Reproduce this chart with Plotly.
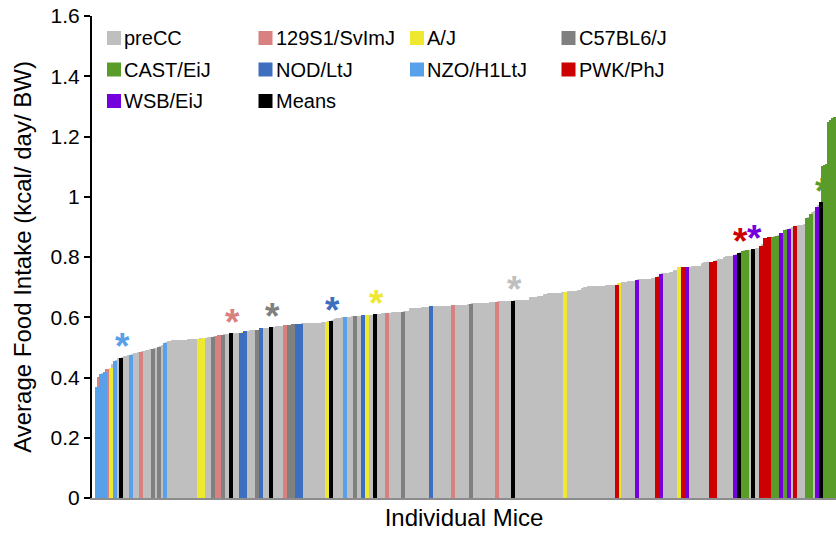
import plotly.graph_objects as go

# ---- food intake per mouse (kcal/day/BW) ----
precc = [
    0.410, 0.426, 0.440, 0.456, 0.460, 0.465, 0.467, 0.468, 0.470,
    0.475, 0.477, 0.478, 0.480, 0.484, 0.486, 0.487, 0.488, 0.490,
    0.494, 0.496, 0.500, 0.503,
    0.516, 0.518, 0.519, 0.520, 0.520, 0.521, 0.521, 0.521, 0.522, 0.522,
    0.522, 0.523, 0.523, 0.523, 0.524, 0.524,
    0.5265, 0.528, 0.529, 0.530, 0.531, 0.534, 0.538, 0.540, 0.541, 0.542,
    0.544, 0.544, 0.545, 0.545, 0.552, 0.552, 0.553, 0.553, 0.554, 0.556,
    0.561, 0.561, 0.562, 0.562, 0.564, 0.565, 0.566, 0.567, 0.568, 0.569,
    0.571, 0.5725, 0.5735, 0.5745,
    0.576, 0.576, 0.577, 0.577, 0.577, 0.578, 0.578, 0.578, 0.579, 0.579,
    0.580, 0.581, 0.583,
    0.588, 0.591, 0.593, 0.594, 0.595, 0.596, 0.598, 0.599, 0.599, 0.600,
    0.6015, 0.602, 0.602, 0.6035, 0.6045, 0.605, 0.6055,
    0.607, 0.608, 0.609, 0.610, 0.610,
    0.612, 0.612, 0.613, 0.613, 0.613, 0.613, 0.6135,
    0.616, 0.617, 0.618, 0.626, 0.626, 0.627, 0.627, 0.627, 0.628, 0.630,
    0.631, 0.631, 0.632,
    0.6335, 0.634, 0.634, 0.634, 0.634, 0.635, 0.635, 0.635, 0.635, 0.635,
    0.637, 0.637, 0.638, 0.638, 0.638, 0.639, 0.639, 0.640,
    0.643, 0.643, 0.644, 0.644, 0.644, 0.645, 0.645, 0.645, 0.645, 0.646,
    0.646, 0.646,
    0.649, 0.649, 0.650, 0.650, 0.650, 0.650, 0.651,
    0.6525, 0.653, 0.653, 0.653, 0.654, 0.654, 0.654, 0.655,
    0.664, 0.665, 0.665, 0.665, 0.666, 0.666, 0.666,
    0.675, 0.675, 0.676, 0.676, 0.677, 0.677, 0.677, 0.678, 0.678, 0.679,
    0.682, 0.683, 0.684, 0.684, 0.685, 0.685, 0.686, 0.686,
    0.695, 0.696, 0.698,
    0.700, 0.700, 0.701, 0.701, 0.701, 0.702, 0.702, 0.702, 0.702, 0.703,
    0.703, 0.703, 0.703, 0.7035,
    0.712, 0.714, 0.715, 0.715, 0.716, 0.716, 0.717, 0.717,
    0.7235, 0.724, 0.724, 0.724, 0.725, 0.725, 0.725, 0.726, 0.726,
    0.733, 0.742, 0.743, 0.744, 0.745, 0.746, 0.747, 0.754, 0.755,
    0.7625, 0.7635,
    0.765, 0.765, 0.766, 0.766, 0.766, 0.767, 0.767, 0.778, 0.779, 0.779,
    0.780, 0.7815,
    0.788, 0.789, 0.790, 0.791, 0.798, 0.799, 0.800, 0.800, 0.801,
    0.805, 0.812, 0.819, 0.8205, 0.821, 0.823, 0.825, 0.827,
    0.840, 0.861, 0.863, 0.865, 0.870, 0.878, 0.888, 0.892, 0.895,
    0.901, 0.902, 0.903, 0.904, 0.905, 0.930, 0.945, 0.950, 0.970,
]
s129 = [0.398, 0.425, 0.482, 0.536, 0.537, 0.570, 0.611, 0.636, 0.648]
aj = [0.428, 0.526, 0.527, 0.549, 0.582, 0.604, 0.681, 0.709, 0.762]
c57 = [0.492, 0.497, 0.532, 0.539, 0.555, 0.572, 0.573, 0.601, 0.614, 0.642]
cast = [0.818, 0.820, 0.864, 0.866, 0.887, 0.925, 0.938,
        1.100, 1.102, 1.105, 1.245, 1.250, 1.258, 1.262]
nod = [0.546, 0.551, 0.560, 0.574, 0.575, 0.603, 0.633]
nzo = [0.365, 0.408, 0.414, 0.452, 0.472, 0.510, 0.597]
pwk = [0.705, 0.731, 0.763, 0.781, 0.782, 0.833, 0.860, 0.862, 0.899]
wsb = [0.722, 0.741, 0.764, 0.803, 0.876, 0.889, 0.962]

# group means, with the strain each mean belongs to
mean_strain = ["NZO/H1LtJ", "129S1/SvImJ", "C57BL6/J", "NOD/LtJ", "A/J",
               "preCC", "PWK/PhJ", "WSB/EiJ", "CAST/EiJ"]
mean_value = [0.462, 0.543, 0.563, 0.584, 0.606, 0.652, 0.810, 0.822, 0.978]

groups = ["preCC", "129S1/SvImJ", "A/J", "C57BL6/J", "CAST/EiJ",
          "NOD/LtJ", "NZO/H1LtJ", "PWK/PhJ", "WSB/EiJ", "Means"]
group_values = [precc, s129, aj, c57, cast, nod, nzo, pwk, wsb, mean_value]
colors = ["#BFBFBF", "#D98080", "#EEE830", "#808080", "#5A9C2A",
          "#3E6FBF", "#58A0EA", "#CC0000", "#7300DD", "#000000"]
color_of = dict(zip(groups, colors))

# every mouse (and every mean) ranked by intake along the x axis
records = []
for g, vals in zip(groups, group_values):
    for v in vals:
        records.append((v, g))
records.sort(key=lambda r: r[0])
n_total = len(records)

fig = go.Figure()
for g in groups:
    xs = [i for i, (v, gg) in enumerate(records) if gg == g]
    ys = [v for v, gg in records if gg == g]
    fig.add_trace(go.Bar(
        x=xs, y=ys, width=1, name=g, showlegend=False,
        marker=dict(color=color_of[g],
                    line=dict(color=color_of[g], width=1 if g == "preCC" else 2)),
    ))

# asterisks above each group mean
mean_rank = {v: i for i, (v, gg) in enumerate(records) if gg == "Means"}
annotations = []
for s, v in zip(mean_strain, mean_value):
    annotations.append(dict(
        x=mean_rank[v], y=v, xref="x", yref="y", text="*", showarrow=False,
        xanchor="center", yanchor="middle", yshift=12, xshift=1,
        font=dict(family="Arial", size=37, color=color_of[s], weight="bold"),
    ))

# legend drawn as a 4-column grid of swatches
L, R, T, B = 92, 0, 16, 36
W, H = 836, 534
PW, PH = W - L - R, H - T - B


def px_x(px):
    return (px - L) / PW


def px_y(py):
    return (T + PH - py) / PH


shapes = []
col_left = [107, 258.5, 410, 561.5]
row_mid = [38, 69.5, 101]
sw = 14
for idx, g in enumerate(groups):
    r, c = divmod(idx, 4)
    x0 = col_left[c]
    yc = row_mid[r]
    shapes.append(dict(type="rect", xref="paper", yref="paper",
                       x0=px_x(x0), x1=px_x(x0 + sw),
                       y0=px_y(yc + sw / 2), y1=px_y(yc - sw / 2),
                       fillcolor=color_of[g], line=dict(width=0)))
    annotations.append(dict(
        x=px_x(x0 + sw + 1), y=px_y(yc), xref="paper", yref="paper",
        text=g, showarrow=False, xanchor="left", yanchor="middle",
        font=dict(family="Arial", size=20, color="#000000"),
    ))

fig.update_layout(
    width=W, height=H,
    margin=dict(l=L, r=R, t=T, b=B, pad=0),
    paper_bgcolor="white", plot_bgcolor="white",
    barmode="overlay", bargap=0,
    showlegend=False,
    shapes=shapes, annotations=annotations,
    font=dict(family="Arial", color="#000000"),
)
fig.update_xaxes(
    range=[-2.5, n_total - 0.5], showticklabels=False, ticks="",
    showgrid=False, zeroline=False, showline=True,
    linecolor="#8C8C8C", linewidth=1.5,
    title=dict(text="Individual Mice", font=dict(size=24), standoff=10),
    automargin=False,
)
fig.update_yaxes(
    range=[0, 1.6], dtick=0.2, tick0=0, showgrid=False, zeroline=False,
    showline=True, linecolor="#000000", linewidth=2,
    ticks="outside", ticklen=6, tickwidth=2, tickcolor="#000000",
    tickfont=dict(size=21, color="#000000"),
    title=dict(text="Average Food Intake (kcal/ day/ BW)", font=dict(size=24), standoff=12),
    automargin=False,
)

fig.write_html("out.html")
